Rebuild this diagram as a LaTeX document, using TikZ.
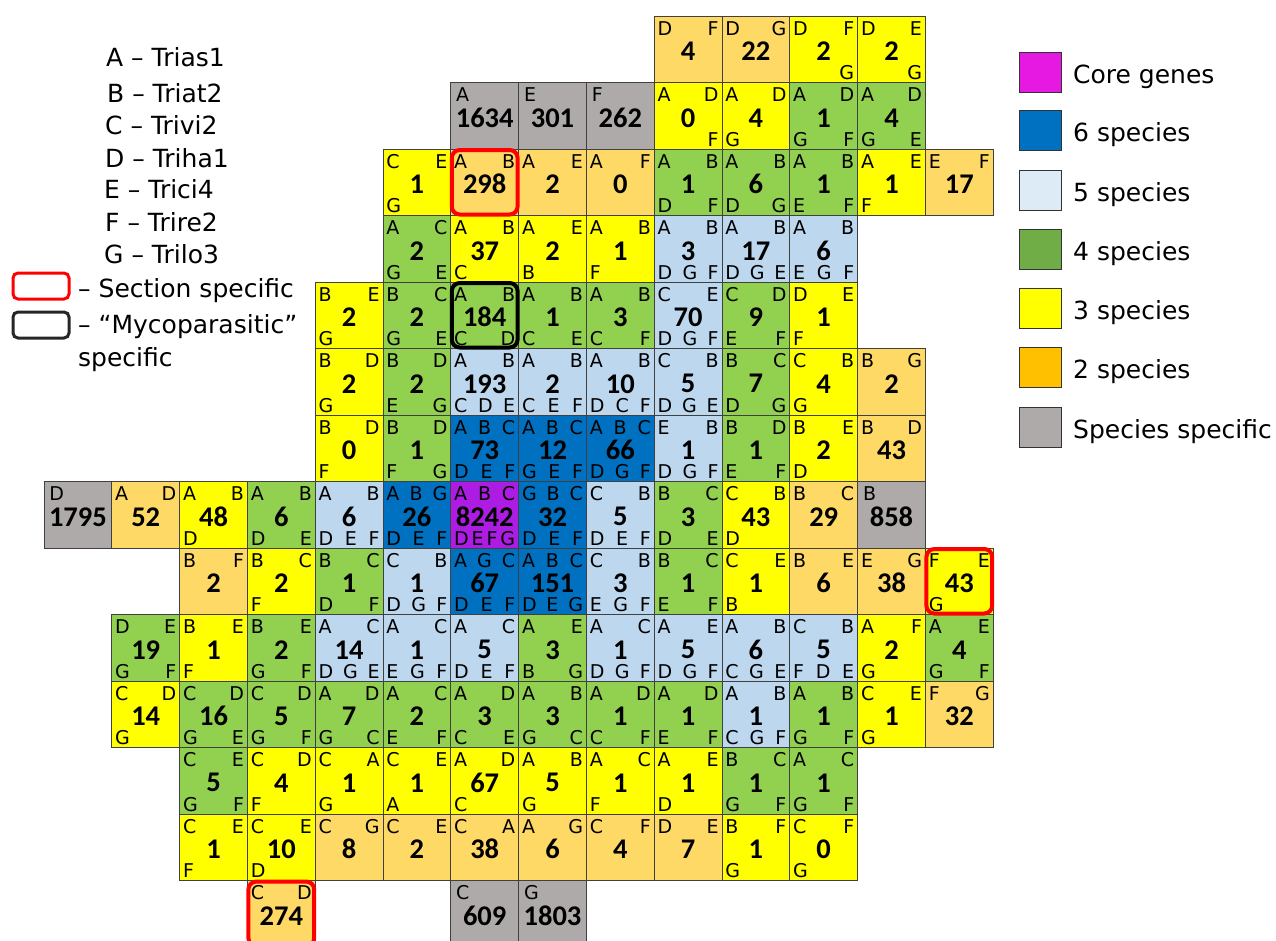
\documentclass[tikz,border=0pt]{standalone}
\usepackage{fontspec}
\setmainfont{DejaVu Sans}
\newfontfamily\countfont{Carlito}

\definecolor{sp1}{HTML}{AEAAAA}
\definecolor{sp2}{HTML}{FFD966}
\definecolor{sp3}{HTML}{FFFF00}
\definecolor{sp4}{HTML}{92D050}
\definecolor{sp5}{HTML}{BDD7EE}
\definecolor{sp6}{HTML}{0070C0}
\definecolor{sp7}{HTML}{AD1CE3}
\definecolor{key2}{HTML}{FFC000}
\definecolor{key4}{HTML}{70AD47}
\definecolor{key5}{HTML}{DDEBF7}
\definecolor{key7}{HTML}{E619E3}
\definecolor{gridline}{HTML}{404040}

% one tile of the overlap grid: column, row, fill, count, top letters, bottom letters
\newcommand\tile[6]{%
  \node[cellbox, fill=#3] (k#2-#1) at ({77.9+67.8*#1},{49.25+66.5*#2}) {};
  \node[count] (n#2-#1) at ([yshift=-2pt]k#2-#1.center) {#4};
  \node[tag, anchor=north] (t#2-#1) at ([yshift=-5pt]k#2-#1.north) {\hbox to 61pt{#5\hfil}};
  \node[tag, anchor=base] (b#2-#1) at ([yshift=3pt]k#2-#1.south) {\hbox to 61pt{#6\hfil}};
}

\begin{document}
\begin{tikzpicture}[x=1pt, y=-1pt,
  cellbox/.style={draw=gridline, line width=0.8pt, minimum width=67.8pt, minimum height=66.5pt, inner sep=0pt, outer sep=0pt},
  count/.style={inner sep=0pt, font=\countfont\bfseries\fontsize{28.5}{30}\selectfont},
  tag/.style={inner sep=0pt, font=\fontsize{19}{20}\selectfont},
  secbox/.style={draw=red, line width=4pt, rounded corners=8pt},
  mycobox/.style={draw=black, line width=4pt, rounded corners=8pt},
  keytext/.style={inner sep=0pt, font=\fontsize{25}{27}\selectfont},
  keybox/.style={minimum width=56pt, minimum height=26pt, line width=3pt, rounded corners=5pt, inner sep=0pt},
  swatch/.style={draw=black!80, line width=1pt, minimum width=42pt, minimum height=40pt, inner sep=0pt}]
\useasboundingbox (0,0) rectangle (1276,940);

% row 0
\tile{9}{0}{sp2}{4}{D\hfill F}{}
\tile{10}{0}{sp2}{22}{D\hfill G}{}
\tile{11}{0}{sp3}{2}{D\hfill F}{\hfill G}
\tile{12}{0}{sp3}{2}{D\hfill E}{\hfill G}
% row 1
\tile{6}{1}{sp1}{1634}{\kern2pt A}{}
\tile{7}{1}{sp1}{301}{\kern2pt E}{}
\tile{8}{1}{sp1}{262}{\kern2pt F}{}
\tile{9}{1}{sp3}{0}{A\hfill D}{\hfill F}
\tile{10}{1}{sp3}{4}{A\hfill D}{G}
\tile{11}{1}{sp4}{1}{A\hfill D}{G\hfill F}
\tile{12}{1}{sp4}{4}{A\hfill D}{G\hfill E}
% row 2
\tile{5}{2}{sp3}{1}{C\hfill E}{G}
\tile{6}{2}{sp2}{298}{A\hfill B}{}
\tile{7}{2}{sp2}{2}{A\hfill E}{}
\tile{8}{2}{sp2}{0}{A\hfill F}{}
\tile{9}{2}{sp4}{1}{A\hfill B}{D\hfill F}
\tile{10}{2}{sp4}{6}{A\hfill B}{D\hfill G}
\tile{11}{2}{sp4}{1}{A\hfill B}{E\hfill F}
\tile{12}{2}{sp3}{1}{A\hfill E}{F}
\tile{13}{2}{sp2}{17}{E\hfill F}{}
% row 3
\tile{5}{3}{sp4}{2}{A\hfill C}{G\hfill E}
\tile{6}{3}{sp3}{37}{A\hfill B}{C}
\tile{7}{3}{sp3}{2}{A\hfill E}{B}
\tile{8}{3}{sp3}{1}{A\hfill B}{F}
\tile{9}{3}{sp5}{3}{A\hfill B}{D\hfill G\hfill F}
\tile{10}{3}{sp5}{17}{A\hfill B}{D\hfill G\hfill E}
\tile{11}{3}{sp5}{6}{A\hfill B}{E\hfill G\hfill F}
% row 4
\tile{4}{4}{sp3}{2}{B\hfill E}{G}
\tile{5}{4}{sp4}{2}{B\hfill C}{G\hfill E}
\tile{6}{4}{sp4}{184}{A\hfill B}{C\hfill D}
\tile{7}{4}{sp4}{1}{A\hfill B}{C\hfill E}
\tile{8}{4}{sp4}{3}{A\hfill B}{C\hfill F}
\tile{9}{4}{sp5}{70}{C\hfill E}{D\hfill G\hfill F}
\tile{10}{4}{sp4}{9}{C\hfill D}{E\hfill F}
\tile{11}{4}{sp3}{1}{D\hfill E}{F}
% row 5
\tile{4}{5}{sp3}{2}{B\hfill D}{G}
\tile{5}{5}{sp4}{2}{B\hfill D}{E\hfill G}
\tile{6}{5}{sp5}{193}{A\hfill B}{C\hfill D\hfill E}
\tile{7}{5}{sp5}{2}{A\hfill B}{C\hfill E\hfill F}
\tile{8}{5}{sp5}{10}{A\hfill B}{D\hfill C\hfill F}
\tile{9}{5}{sp5}{5}{C\hfill B}{D\hfill G\hfill E}
\tile{10}{5}{sp4}{7}{B\hfill C}{D\hfill G}
\tile{11}{5}{sp3}{4}{C\hfill B}{G}
\tile{12}{5}{sp2}{2}{B\hfill G}{}
% row 6
\tile{4}{6}{sp3}{0}{B\hfill D}{F}
\tile{5}{6}{sp4}{1}{B\hfill D}{F\hfill G}
\tile{6}{6}{sp6}{73}{A\hfill B\hfill C}{D\hfill E\hfill F}
\tile{7}{6}{sp6}{12}{A\hfill B\hfill C}{G\hfill E\hfill F}
\tile{8}{6}{sp6}{66}{A\hfill B\hfill C}{D\hfill G\hfill F}
\tile{9}{6}{sp5}{1}{E\hfill B}{D\hfill G\hfill F}
\tile{10}{6}{sp4}{1}{B\hfill D}{E\hfill F}
\tile{11}{6}{sp3}{2}{B\hfill E}{D}
\tile{12}{6}{sp2}{43}{B\hfill D}{}
% row 7 -- the core row
\tile{0}{7}{sp1}{1795}{\kern2pt D}{}
\tile{1}{7}{sp2}{52}{A\hfill D}{}
\tile{2}{7}{sp3}{48}{A\hfill B}{D}
\tile{3}{7}{sp4}{6}{A\hfill B}{D\hfill E}
\tile{4}{7}{sp5}{6}{A\hfill B}{D\hfill E\hfill F}
\tile{5}{7}{sp6}{26}{A\hfill B\hfill G}{D\hfill E\hfill F}
\tile{6}{7}{sp7}{8242}{A\hfill B\hfill C}{D\hfill E\hfill F\hfill G}
\tile{7}{7}{sp6}{32}{G\hfill B\hfill C}{D\hfill E\hfill F}
\tile{8}{7}{sp5}{5}{C\hfill B}{D\hfill E\hfill F}
\tile{9}{7}{sp4}{3}{B\hfill C}{D\hfill E}
\tile{10}{7}{sp3}{43}{C\hfill B}{D}
\tile{11}{7}{sp2}{29}{B\hfill C}{}
\tile{12}{7}{sp1}{858}{\kern2pt B}{}
% row 8
\tile{2}{8}{sp2}{2}{B\hfill F}{}
\tile{3}{8}{sp3}{2}{B\hfill C}{F}
\tile{4}{8}{sp4}{1}{B\hfill C}{D\hfill F}
\tile{5}{8}{sp5}{1}{C\hfill B}{D\hfill G\hfill F}
\tile{6}{8}{sp6}{67}{A\hfill G\hfill C}{D\hfill E\hfill F}
\tile{7}{8}{sp6}{151}{A\hfill B\hfill C}{D\hfill E\hfill G}
\tile{8}{8}{sp5}{3}{C\hfill B}{E\hfill G\hfill F}
\tile{9}{8}{sp4}{1}{B\hfill C}{E\hfill F}
\tile{10}{8}{sp3}{1}{C\hfill E}{B}
\tile{11}{8}{sp2}{6}{B\hfill E}{}
\tile{12}{8}{sp2}{38}{E\hfill G}{}
\tile{13}{8}{sp3}{43}{F\hfill E}{G}
% row 9
\tile{1}{9}{sp4}{19}{D\hfill E}{G\hfill F}
\tile{2}{9}{sp3}{1}{B\hfill E}{F}
\tile{3}{9}{sp4}{2}{B\hfill E}{G\hfill F}
\tile{4}{9}{sp5}{14}{A\hfill C}{D\hfill G\hfill E}
\tile{5}{9}{sp5}{1}{A\hfill C}{E\hfill G\hfill F}
\tile{6}{9}{sp5}{5}{A\hfill C}{D\hfill E\hfill F}
\tile{7}{9}{sp4}{3}{A\hfill E}{B\hfill G}
\tile{8}{9}{sp5}{1}{A\hfill C}{D\hfill G\hfill F}
\tile{9}{9}{sp5}{5}{A\hfill E}{D\hfill G\hfill F}
\tile{10}{9}{sp5}{6}{A\hfill B}{C\hfill G\hfill E}
\tile{11}{9}{sp5}{5}{C\hfill B}{F\hfill D\hfill E}
\tile{12}{9}{sp3}{2}{A\hfill F}{G}
\tile{13}{9}{sp4}{4}{A\hfill E}{G\hfill F}
% row 10
\tile{1}{10}{sp3}{14}{C\hfill D}{G}
\tile{2}{10}{sp4}{16}{C\hfill D}{G\hfill E}
\tile{3}{10}{sp4}{5}{C\hfill D}{G\hfill F}
\tile{4}{10}{sp4}{7}{A\hfill D}{G\hfill C}
\tile{5}{10}{sp4}{2}{A\hfill C}{E\hfill F}
\tile{6}{10}{sp4}{3}{A\hfill D}{C\hfill E}
\tile{7}{10}{sp4}{3}{A\hfill B}{G\hfill C}
\tile{8}{10}{sp4}{1}{A\hfill D}{C\hfill F}
\tile{9}{10}{sp4}{1}{A\hfill D}{E\hfill F}
\tile{10}{10}{sp5}{1}{A\hfill B}{C\hfill G\hfill F}
\tile{11}{10}{sp4}{1}{A\hfill B}{G\hfill F}
\tile{12}{10}{sp3}{1}{C\hfill E}{G}
\tile{13}{10}{sp2}{32}{F\hfill G}{}
% row 11
\tile{2}{11}{sp4}{5}{C\hfill E}{G\hfill F}
\tile{3}{11}{sp3}{4}{C\hfill D}{F}
\tile{4}{11}{sp3}{1}{C\hfill A}{G}
\tile{5}{11}{sp3}{1}{C\hfill E}{A}
\tile{6}{11}{sp3}{67}{A\hfill D}{C}
\tile{7}{11}{sp3}{5}{A\hfill B}{G}
\tile{8}{11}{sp3}{1}{A\hfill C}{F}
\tile{9}{11}{sp3}{1}{A\hfill E}{D}
\tile{10}{11}{sp4}{1}{B\hfill C}{G\hfill F}
\tile{11}{11}{sp4}{1}{A\hfill C}{G\hfill F}
% row 12
\tile{2}{12}{sp3}{1}{C\hfill E}{F}
\tile{3}{12}{sp3}{10}{C\hfill E}{D}
\tile{4}{12}{sp2}{8}{C\hfill G}{}
\tile{5}{12}{sp2}{2}{C\hfill E}{}
\tile{6}{12}{sp2}{38}{C\hfill A}{}
\tile{7}{12}{sp2}{6}{A\hfill G}{}
\tile{8}{12}{sp2}{4}{C\hfill F}{}
\tile{9}{12}{sp2}{7}{D\hfill E}{}
\tile{10}{12}{sp3}{1}{B\hfill F}{G}
\tile{11}{12}{sp3}{0}{C\hfill F}{G}
% row 13, cut by the page edge
\tile{3}{13}{sp2}{274}{C\hfill D}{}
\tile{6}{13}{sp1}{609}{\kern2pt C}{}
\tile{7}{13}{sp1}{1803}{\kern2pt G}{}

% highlighted tiles
\draw[secbox] ([shift={(1,1)}]k2-6.north west) rectangle ([shift={(-1,-1)}]k2-6.south east);
\draw[secbox] ([shift={(1,1)}]k8-13.north west) rectangle ([shift={(-1,-1)}]k8-13.south east);
\draw[secbox] ([shift={(1,1)}]k13-3.north west) rectangle ([shift={(-1,-1)}]k13-3.south east);
\draw[mycobox] ([shift={(1,1)}]k4-6.north west) rectangle ([shift={(-1,-1)}]k4-6.south east);

% species key
\node[keytext, anchor=base west] (keyA) at (106,66) {A – Trias1};
\node[keytext, anchor=base west] (keyB) at (107,102) {B – Triat2};
\node[keytext, anchor=base west] (keyC) at (105,134) {C – Trivi2};
\node[keytext, anchor=base west] (keyD) at (105,167) {D – Triha1};
\node[keytext, anchor=base west] (keyE) at (104,198) {E – Trici4};
\node[keytext, anchor=base west] (keyF) at (105,231) {F – Trire2};
\node[keytext, anchor=base west] (keyG) at (104,263) {G – Trilo3};
\node[keybox, draw=red] (keysec) at (41,286) {};
\node[keytext, anchor=base west] (keysectext) at (78,297) {– Section specific};
\node[keybox, draw=black!85] (keymyco) at (41,325) {};
\node[keytext, anchor=base west] (keymycotext) at (78,333) {– “Mycoparasitic”};
\node[keytext, anchor=base west] (keymycotext2) at (78,366) {specific};

% colour key
\node[swatch, fill=key7] (sw7) at (1040,72) {};
\node[keytext, anchor=base west] (lg7) at (1073,83) {Core genes};
\node[swatch, fill=sp6] (sw6) at (1040,130) {};
\node[keytext, anchor=base west] (lg6) at (1073,141) {6 species};
\node[swatch, fill=key5] (sw5) at (1040,190) {};
\node[keytext, anchor=base west] (lg5) at (1073,201) {5 species};
\node[swatch, fill=key4] (sw4) at (1040,249) {};
\node[keytext, anchor=base west] (lg4) at (1073,260) {4 species};
\node[swatch, fill=sp3] (sw3) at (1040,308) {};
\node[keytext, anchor=base west] (lg3) at (1073,319) {3 species};
\node[swatch, fill=key2] (sw2) at (1040,367) {};
\node[keytext, anchor=base west] (lg2) at (1073,378) {2 species};
\node[swatch, fill=sp1] (sw1) at (1040,427) {};
\node[keytext, anchor=base west] (lg1) at (1073,438) {Species specific};
\end{tikzpicture}
\end{document}
